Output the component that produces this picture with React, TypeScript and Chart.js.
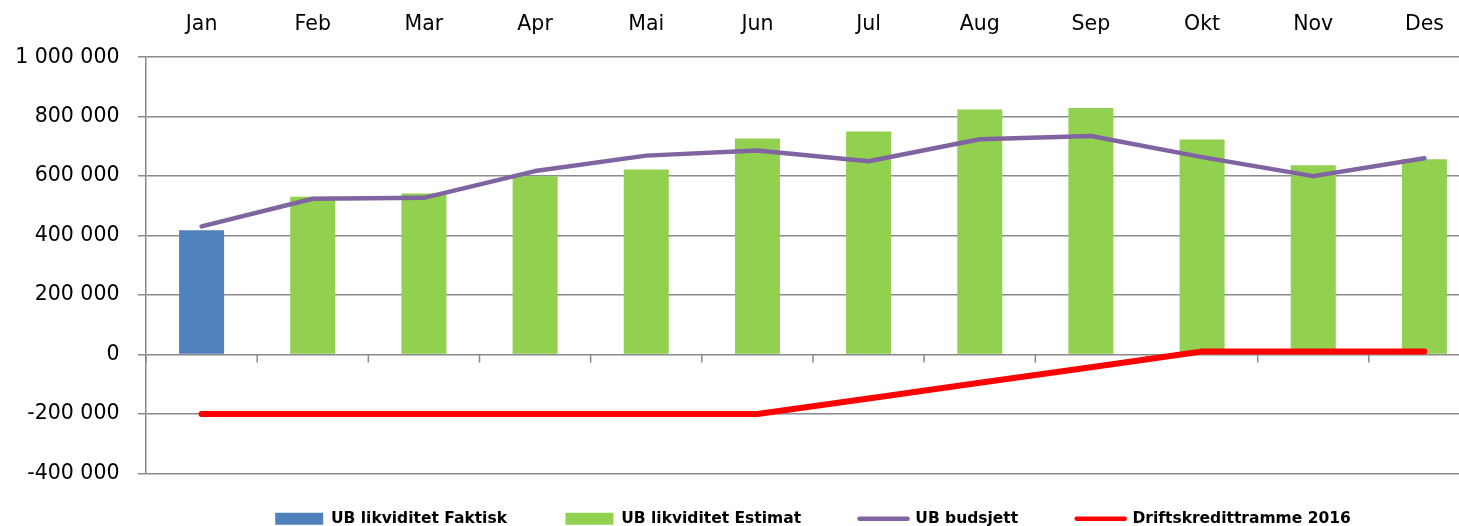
import React, { useEffect, useRef } from 'react';
import { Chart, registerables } from 'chart.js';

Chart.register(...registerables);

const months = ['Jan', 'Feb', 'Mar', 'Apr', 'Mai', 'Jun', 'Jul', 'Aug', 'Sep', 'Okt', 'Nov', 'Des'];
const seriesNames = ['UB likviditet Faktisk', 'UB likviditet Estimat', 'UB budsjett', 'Driftskredittramme 2016'];
const faktisk = [418000, null, null, null, null, null, null, null, null, null, null, null];
const estimat = [null, 531000, 542000, 600000, 622000, 727000, 750000, 824000, 829000, 723000, 637000, 657000];
const budsjett = [431000, 524000, 527000, 617000, 669000, 686000, 650000, 724000, 735000, 664000, 600000, 660000];
const driftskreditt = [-200000, -200000, -200000, -200000, -200000, -200000, -147500, -95000, -42500, 10000, 10000, 10000];
const yMin = -400000;
const yMax = 1000000;
const yStep = 200000;

const GRID = '#8a8a8a';
const FONT = 'DejaVu Sans';

const fmt = (v: number) => {
  const s = Math.abs(v).toString().replace(/\B(?=(\d{3})+(?!\d))/g, ' ');
  return (v < 0 ? '-' : '') + s;
};

const zeroTicks = {
  id: 'zeroTicks',
  beforeDatasetsDraw(chart: any) {
    const xs = chart.scales.x;
    const ys = chart.scales.y;
    const y0 = ys.getPixelForValue(0);
    const ctx = chart.ctx;
    ctx.save();
    ctx.strokeStyle = GRID;
    ctx.lineWidth = 1.5;
    for (let i = 0; i <= months.length; i++) {
      const px = xs.getPixelForValue(i - 0.5);
      ctx.beginPath();
      ctx.moveTo(px, y0);
      ctx.lineTo(px, y0 + 8);
      ctx.stroke();
    }
    ctx.restore();
  },
};

const legendShift = {
  id: 'legendShift',
  afterLayout(chart: any) {
    const l = chart.legend;
    if (!l) return;
    const dy = -21;
    const dx = 73;
    l.top += dy;
    l.bottom = chart.height;
    l.left += dx;
    l.right += dx;
  },
};

export default function App() {
  const ref = useRef<HTMLCanvasElement | null>(null);

  useEffect(() => {
    if (!ref.current) return;
    const chart = new Chart(ref.current, {
      type: 'bar',
      data: {
        labels: months,
        datasets: [
          {
            type: 'bar',
            label: seriesNames[0],
            data: faktisk,
            backgroundColor: '#4F81BD',
            grouped: false,
            barPercentage: 0.405,
            categoryPercentage: 1,
            order: 2,
          } as any,
          {
            type: 'bar',
            label: seriesNames[1],
            data: estimat,
            backgroundColor: '#92D050',
            grouped: false,
            barPercentage: 0.405,
            categoryPercentage: 1,
            order: 2,
          } as any,
          {
            type: 'line',
            label: seriesNames[2],
            data: budsjett,
            borderColor: '#8064A2',
            backgroundColor: '#8064A2',
            borderWidth: 4.5,
            pointRadius: 0,
            borderCapStyle: 'round',
            borderJoinStyle: 'round',
            tension: 0,
            order: 1,
          } as any,
          {
            type: 'line',
            label: seriesNames[3],
            data: driftskreditt,
            borderColor: '#FF0000',
            backgroundColor: '#FF0000',
            borderWidth: 6,
            pointRadius: 0,
            borderCapStyle: 'round',
            borderJoinStyle: 'round',
            tension: 0,
            order: 0,
          } as any,
        ],
      },
      options: {
        responsive: false,
        animation: false,
        devicePixelRatio: 1,
        layout: { padding: 0 },
        scales: {
          x: {
            type: 'category',
            position: 'top',
            offset: true,
            grid: { display: false },
            border: { display: false },
            ticks: {
              color: '#000',
              font: { family: FONT, size: 20.5 },
              padding: 12,
              maxRotation: 0,
              autoSkip: false,
            },
            afterFit: (s: any) => {
              s.height = 57.2;
            },
          },
          y: {
            type: 'linear',
            min: yMin,
            max: yMax,
            ticks: {
              stepSize: yStep,
              color: '#000',
              font: { family: FONT, size: 20.5 },
              padding: 18.5,
              callback: (v: any) => fmt(Number(v)),
            },
            grid: {
              color: GRID,
              lineWidth: 1.5,
              drawTicks: true,
              tickLength: 8,
              tickColor: GRID,
              tickWidth: 1.5,
            },
            border: { display: true, color: GRID, width: 1.5 },
            afterFit: (s: any) => {
              s.width = 146;
            },
          },
        },
        plugins: {
          tooltip: { enabled: false },
          title: { display: false },
          legend: {
            display: true,
            position: 'bottom',
            align: 'center',
            maxHeight: 52.5,
            labels: {
              color: '#000',
              font: { family: FONT, size: 15.5, weight: 'bold' },
              usePointStyle: true,
              pointStyleWidth: 48,
              boxWidth: 48,
              boxHeight: 12,
              padding: 58.5,
              sort: (a: any, b: any) => a.datasetIndex - b.datasetIndex,
              generateLabels: (c: any) => {
                const base = (Chart.defaults.plugins.legend.labels as any).generateLabels(c);
                return base.map((it: any) => {
                  const ds: any = c.data.datasets[it.datasetIndex];
                  const isLine = ds.type === 'line';
                  return {
                    ...it,
                    pointStyle: isLine ? 'line' : 'rect',
                    lineWidth: isLine ? 4.5 : 0,
                    lineCap: 'round',
                    strokeStyle: isLine ? ds.borderColor : ds.backgroundColor,
                    fillStyle: isLine ? ds.borderColor : ds.backgroundColor,
                  };
                });
              },
            },
          },
        },
      } as any,
      plugins: [zeroTicks, legendShift],
    });
    return () => chart.destroy();
  }, []);

  return (
    <div
      style={{
        position: 'fixed',
        left: 0,
        top: 0,
        width: 1459,
        height: 526,
        overflow: 'hidden',
        background: '#fff',
      }}
    >
      <canvas ref={ref} width={1480} height={526} style={{ display: 'block', width: 1480, height: 526 }} />
    </div>
  );
}
